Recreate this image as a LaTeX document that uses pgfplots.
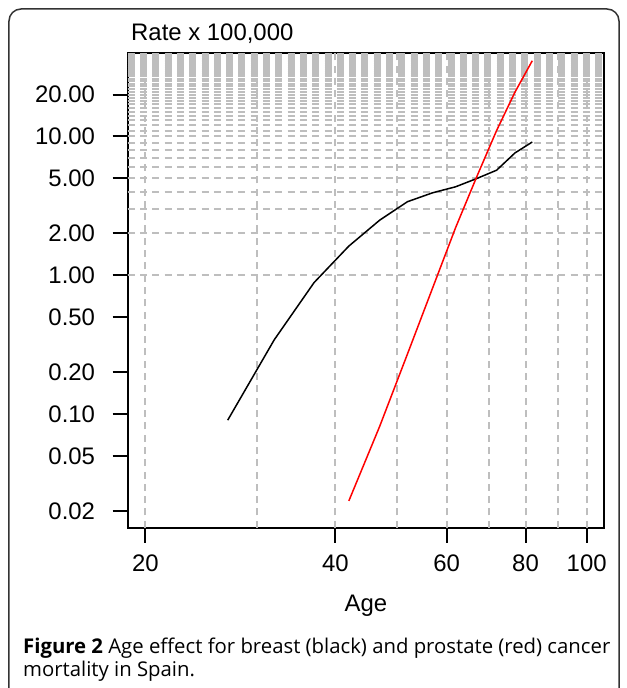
\documentclass[border=0pt]{standalone}
\usepackage{fontspec}
\setmainfont{Liberation Sans}
\newfontfamily\capfont{Open Sans}
\usepackage{pgfplots}
\pgfplotsset{compat=1.18}
\definecolor{gridgray}{HTML}{BEBEBE}
\definecolor{framegray}{HTML}{333333}

% age effect, rate x 100,000
\pgfplotstableread{
age rate
27 0.0904
32 0.343
37 0.885
42 1.62
47 2.49
52 3.38
57 3.92
62 4.33
67 4.97
72 5.70
77 7.59
82 9.10
}\breast
\pgfplotstableread{
age rate
42 0.0237
47 0.0816
52 0.270
57 0.807
62 2.20
67 5.14
72 11.0
77 20.8
82 35.0
}\prostate

\begin{document}
\begin{tikzpicture}[x=1bp,y=1bp]
\begin{axis}[
  at={(0,0)}, anchor=south west,
  scale only axis, width=476.6bp, height=475bp,
  xmode=log, ymode=log,
  xmin=18.75, xmax=106.65,
  ymin=0.0152, ymax=40,
  xtick={20,40,60,80,100}, xticklabels={20,40,60,80,100},
  ytick={0.02,0.05,0.1,0.2,0.5,1,2,5,10,20},
  yticklabels={0.02,0.05,0.10,0.20,0.50,1.00,2.00,5.00,10.00,20.00},
  minor xtick={}, minor ytick={},
  xtick pos=bottom, ytick pos=left,
  tick align=outside, major tick length=15bp,
  major tick style={black, line width=2bp},
  axis line style={line width=2bp},
  ticklabel style={font=\fontsize{24}{28}\selectfont},
  xticklabel style={inner sep=0pt, yshift=-12bp},
  yticklabel style={inner sep=0pt, xshift=-17.5bp},
  extra x ticks={20,30,40,50,60,70,80,90,100},
  extra y ticks={1,2,3,4,5,6,7,8,9,10,11,12,13,14,15,16,17,18,19,20,21,22,23,24,25,26,27,28,29,30,31,32,33,34,35,36,37,38,39},
  extra x tick labels={}, extra y tick labels={},
  extra tick style={grid=major, major tick length=0pt, major tick style={draw=none}},
  major grid style={gridgray, line width=2bp, dash pattern=on 7bp off 5.3bp},
  title={Rate x 100,000},
  title style={at={(axis description cs:0,1)}, anchor=base west, yshift=6bp,
    font=\fontsize{24}{28}\selectfont},
  xlabel={Age},
  xlabel style={at={(axis description cs:0.5,0)}, anchor=base, yshift=-84bp,
    font=\fontsize{24}{28}\selectfont},
]
\addplot[black, line width=1.5bp] table[x=age, y=rate] {\breast};
\addplot[red, line width=1.5bp] table[x=age, y=rate] {\prostate};
\end{axis}
\draw[framegray, line width=1.5bp, rounded corners=12bp]
  (-118.7,-180) -- (-118.7,518.7) -- (491.3,518.7) -- (491.3,-180);
\node[anchor=base west, inner sep=0pt, font=\capfont\fontsize{20.4}{23}\selectfont]
  at (-104.7,-125.3) {\textbf{Figure 2} Age effect for breast (black) and prostate (red) cancer};
\node[anchor=base west, inner sep=0pt, font=\capfont\fontsize{20.4}{23}\selectfont]
  at (-104.7,-148.3) {mortality in Spain.};
\pgfresetboundingbox
\useasboundingbox (-127.7,-160.3) rectangle (499.3,527.7);
\end{tikzpicture}
\end{document}
